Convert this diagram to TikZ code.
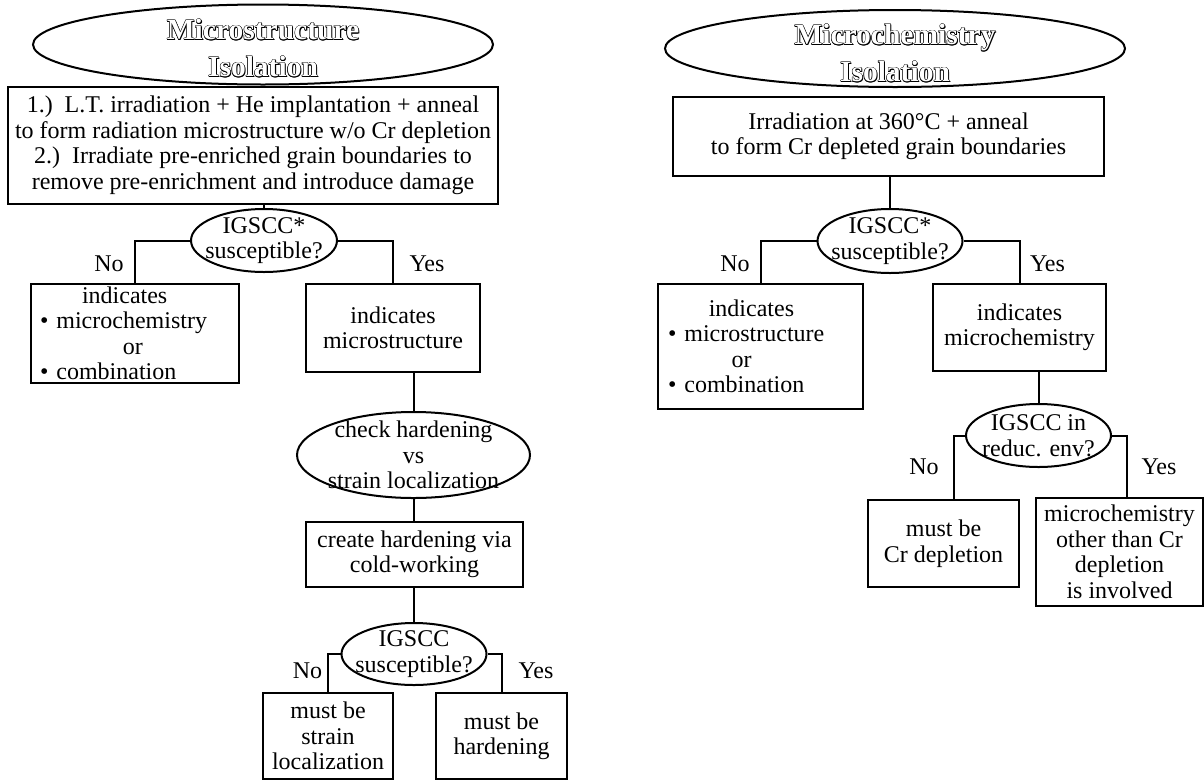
\documentclass[tikz,border=0pt]{standalone}
\usepackage{fontspec}
\setmainfont{Liberation Serif}
\usetikzlibrary{
  positioning,
  shapes.geometric,
}

\newcommand\bodyfont{\fontsize{24}{25.5}\selectfont}
\newcommand\isofont{\fontsize{29.5}{37}\selectfont\bfseries}
% outlined letters with a small shadow
\newcommand\hollow[1]{%
  \setbox0=\hbox{#1}%
  \rlap{\kern1.1pt\lower1.1pt\copy0}%
  \rlap{\kern-.4pt\copy0}\rlap{\kern.4pt\copy0}%
  \rlap{\raise.4pt\copy0}\rlap{\lower.4pt\copy0}%
  \rlap{\kern.3pt\raise.3pt\copy0}\rlap{\kern-.3pt\raise.3pt\copy0}%
  \rlap{\kern.3pt\lower.3pt\copy0}\rlap{\kern-.3pt\lower.3pt\copy0}%
  {\color{white}\copy0}}

\begin{document}
\begin{tikzpicture}[x=1pt,y=-1pt,every node/.style={font=\bodyfont}]%
\tikzstyle{box}=[rectangle,draw,line width=2pt,inner sep=0pt,align=center]
\tikzstyle{query}=[ellipse,draw,line width=2pt,inner sep=0pt]
\tikzstyle{answer}=[anchor=base,inner sep=0pt]
\tikzstyle{link}=[line width=2pt]
\useasboundingbox (0,0) rectangle (1204,780);

% microstructure side
\node[query,minimum width=460pt,minimum height=80pt,
  label={[align=center,font=\isofont,yshift=-4pt]center:\hollow{Microstructure}\\\hollow{Isolation}}] (titleA) at (263,44.5) {};
\node[box,minimum width=490pt,minimum height=117pt] (prepA) at (253,145.5)
  {1.)~~L.T. irradiation + He implantation + anneal\\to form radiation microstructure w/o Cr depletion\\2.)~~Irradiate pre-enriched grain boundaries to\\remove pre-enrichment and introduce damage};
\node[query,minimum width=146pt,minimum height=63pt,
  label={[align=center]center:IGSCC*\\susceptible?}] (qA) at (264,240.5) {};
\node[box,minimum width=208pt,minimum height=99pt,text width=190pt,align=left] (noA) at (135,333.5)
  {\hspace*{1.75em}indicates\\• microchemistry\\\hspace*{3.45em}or\\• combination};
\node[box,minimum width=174pt,minimum height=88pt] (yesA) at (393,328) {indicates\\microstructure};
\node[query,minimum width=233pt,minimum height=86pt,
  label={[align=center]center:check hardening\\vs\\strain localization}] (checkA) at (413.5,455) {};
\node[box,minimum width=217pt,minimum height=65pt] (coldA) at (414.5,554.5) {create hardening via\\cold-working};
\node[query,minimum width=145pt,minimum height=62pt,
  label={[align=center]center:IGSCC\\susceptible?}] (qB) at (414,654) {};
\node[box,minimum width=130pt,minimum height=86pt] (strainA) at (328,736) {must be\\strain\\localization};
\node[box,minimum width=131pt,minimum height=86pt] (hardA) at (501.5,736) {must be\\hardening};

\node[answer] (noqA) at (109,271) {No};
\node[answer] (yesqA) at (427,271) {Yes};
\node[answer] (noqB) at (307.5,678) {No};
\node[answer] (yesqB) at (536,678) {Yes};

\draw[link] (qA.north |- prepA.south) -- (qA.north);
\draw[link] (qA.west) -| (noA.north);
\draw[link] (qA.east) -| (yesA.north);
\draw[link] (checkA.north |- yesA.south) -- (checkA.north);
\draw[link] (checkA.south) -- (checkA.south |- coldA.north);
\draw[link] (qB.north |- coldA.south) -- (qB.north);
\draw[link] (qB.west) -| (strainA.north);
\draw[link] (qB.east) -| (hardA.north);

% microchemistry side
\node[query,minimum width=460pt,minimum height=77pt,
  label={[align=center,font=\isofont,yshift=-5pt]center:\hollow{Microchemistry}\\\hollow{Isolation}}] (titleB) at (895,48.5) {};
\node[box,minimum width=431pt,minimum height=79pt] (prepB) at (888.5,136.5)
  {Irradiation at 360°C + anneal\\to form Cr depleted grain boundaries};
\node[query,minimum width=145pt,minimum height=64pt,
  label={[align=center]center:IGSCC*\\susceptible?}] (qC) at (890,241) {};
\node[box,minimum width=205pt,minimum height=125pt,text width=185pt,align=left] (noB) at (760.5,346.5)
  {\hspace*{1.7em}indicates\\• microstructure\\\hspace*{2.65em}or\\• combination};
\node[box,minimum width=173pt,minimum height=87pt] (yesB) at (1019.5,327.5) {indicates\\microchemistry};
\node[query,minimum width=145pt,minimum height=63pt,
  label={[align=center]center:IGSCC in\\reduc. env?}] (qD) at (1038.5,435.5) {};
\node[box,minimum width=151pt,minimum height=87pt] (crdepB) at (943.5,543.5) {must be\\Cr depletion};
\node[box,minimum width=167pt,minimum height=108pt] (otherB) at (1119.5,552) {microchemistry\\other than Cr\\depletion\\is involved};

\node[answer] (noqC) at (735,271) {No};
\node[answer] (yesqC) at (1047.5,271) {Yes};
\node[answer] (noqD) at (924,474) {No};
\node[answer] (yesqD) at (1159,474) {Yes};

\draw[link] (qC.north |- prepB.south) -- (qC.north);
\draw[link] (qC.west) -| (noB.north);
\draw[link] (qC.east) -| (yesB.north);
\draw[link] (qD.north |- yesB.south) -- (qD.north);
\draw[link] (qD.west) -| ([xshift=10pt]crdepB.north);
\draw[link] (qD.east) -| ([xshift=7pt]otherB.north);
\end{tikzpicture}
\end{document}
